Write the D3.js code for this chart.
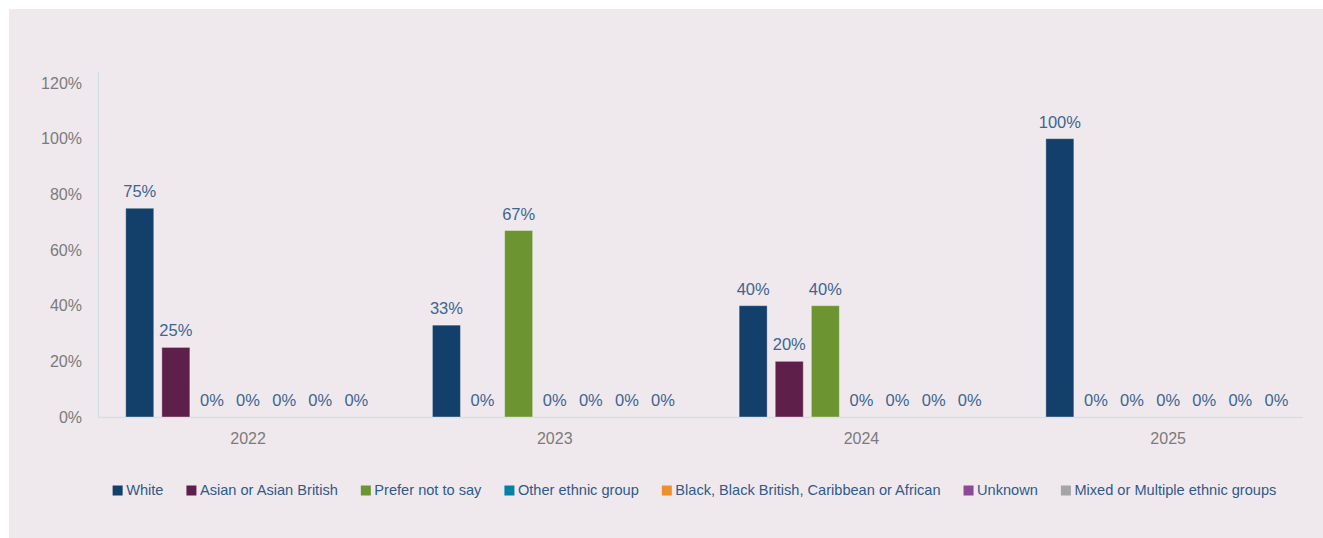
<!DOCTYPE html>
<html>
<head>
<meta charset="utf-8">
<script src="https://cdn.jsdelivr.net/npm/d3@7"></script>
<style>
	body { margin: 0; background: #ffffff; }
	svg { display: block; font-family: "Liberation Sans", Arial, Helvetica, sans-serif; }
</style>
</head>
<body>
<div id="chart"></div>
<script>
// data
var years = ["2022", "2023", "2024", "2025"];
var groups = ["White", "Asian or Asian British", "Prefer not to say", "Other ethnic group",
	"Black, Black British, Caribbean or African", "Unknown", "Mixed or Multiple ethnic groups"];
var white = [75, 33, 40, 100];
var asian = [25, 0, 20, 0];
var preferNot = [0, 67, 40, 0];
var other = [0, 0, 0, 0];
var black = [0, 0, 0, 0];
var unknown = [0, 0, 0, 0];
var mixed = [0, 0, 0, 0];
var yTicks = [0, 20, 40, 60, 80, 100, 120];
var colors = ["#13406b", "#5f1f4b", "#6c9430", "#0081a6", "#f18e2c", "#8b4a97", "#a5a5a5"];

var series = [white, asian, preferNot, other, black, unknown, mixed];

var w = 1323;
var h = 538;
var axisLeft = 98, axisRight = 1303, axisTop = 72, baseY = 417;

var svg = d3.select("#chart").append("svg")
	.attr("width", w)
	.attr("height", h);

// panel background
svg.append("rect")
	.attr("x", 9)
	.attr("y", 9)
	.attr("width", w - 9)
	.attr("height", h - 9)
	.attr("fill", "#efe9ee");

var x0 = d3.scaleBand().domain(years).range([94.7, 1321.5]);
var x1 = d3.scaleBand().domain(groups).range([27, x0.bandwidth() - 27]).paddingInner(0.224).paddingOuter(0.112);
var y = d3.scaleLinear().domain([0, 120]).range([baseY, 83]);

// y axis
var yAxis = svg.append("g")
	.attr("transform", "translate(" + axisLeft + ",0)")
	.call(d3.axisLeft(y).tickValues(yTicks).tickSize(0).tickPadding(16).tickFormat(function(d) { return d + "%"; }));
yAxis.select(".domain").remove();
yAxis.selectAll("text")
	.attr("fill", "#7b7b7b")
	.style("font-size", "16px");

svg.append("line")
	.attr("x1", axisLeft + 0.5).attr("x2", axisLeft + 0.5)
	.attr("y1", axisTop).attr("y2", baseY)
	.attr("stroke", "#cfdbe6")
	.attr("stroke-width", 1);

// x axis
var xAxis = svg.append("g")
	.attr("transform", "translate(0," + baseY + ")")
	.call(d3.axisBottom(x0).tickSize(0).tickPadding(16));
xAxis.select(".domain").remove();
xAxis.selectAll("text")
	.attr("fill", "#7b7b7b")
	.style("font-size", "16px");

svg.append("line")
	.attr("x1", axisLeft).attr("x2", axisRight)
	.attr("y1", baseY + 0.5).attr("y2", baseY + 0.5)
	.attr("stroke", "#d6dde8")
	.attr("stroke-width", 1.5);

// bars
var rows = [];
for (var i = 0; i < years.length; i++) {
	for (var j = 0; j < groups.length; j++) {
		rows.push({year: years[i], group: groups[j], value: series[j][i], color: colors[j]});
	}
}

svg.selectAll("rect.bar")
	.data(rows.filter(function(d) { return d.value > 0; }))
	.enter()
	.append("rect")
	.attr("class", "bar")
	.attr("x", function(d) { return x0(d.year) + x1(d.group); })
	.attr("y", function(d) { return y(d.value); })
	.attr("width", x1.bandwidth())
	.attr("height", function(d) { return baseY - y(d.value); })
	.attr("fill", function(d) { return d.color; })
	.attr("stroke", "rgba(255,255,255,0.35)")
	.attr("stroke-width", 1);

svg.selectAll("text.lbl")
	.data(rows)
	.enter()
	.append("text")
	.attr("class", "lbl")
	.attr("x", function(d) { return x0(d.year) + x1(d.group) + x1.bandwidth() / 2; })
	.attr("y", function(d) { return y(d.value) - 11; })
	.attr("text-anchor", "middle")
	.attr("fill", "#3d6591")
	.style("font-size", "16.5px")
	.text(function(d) { return d.value + "%"; });

// legend
var legend = svg.append("g");
var lx = 0;
groups.forEach(function(g, i) {
	var item = legend.append("g").attr("transform", "translate(" + lx + ",0)");
	item.append("rect")
		.attr("x", 0).attr("y", -9.5)
		.attr("width", 10).attr("height", 10)
		.attr("fill", colors[i]);
	var t = item.append("text")
		.attr("x", 13.5).attr("y", 0)
		.attr("fill", "#2f5a8a")
		.style("font-size", "14.6px")
		.text(g);
	lx += 13.5 + t.node().getComputedTextLength() + 23;
});
var legendWidth = lx - 23;
legend.attr("transform", "translate(" + (694.5 - legendWidth / 2) + ",495)");
</script>
</body>
</html>
